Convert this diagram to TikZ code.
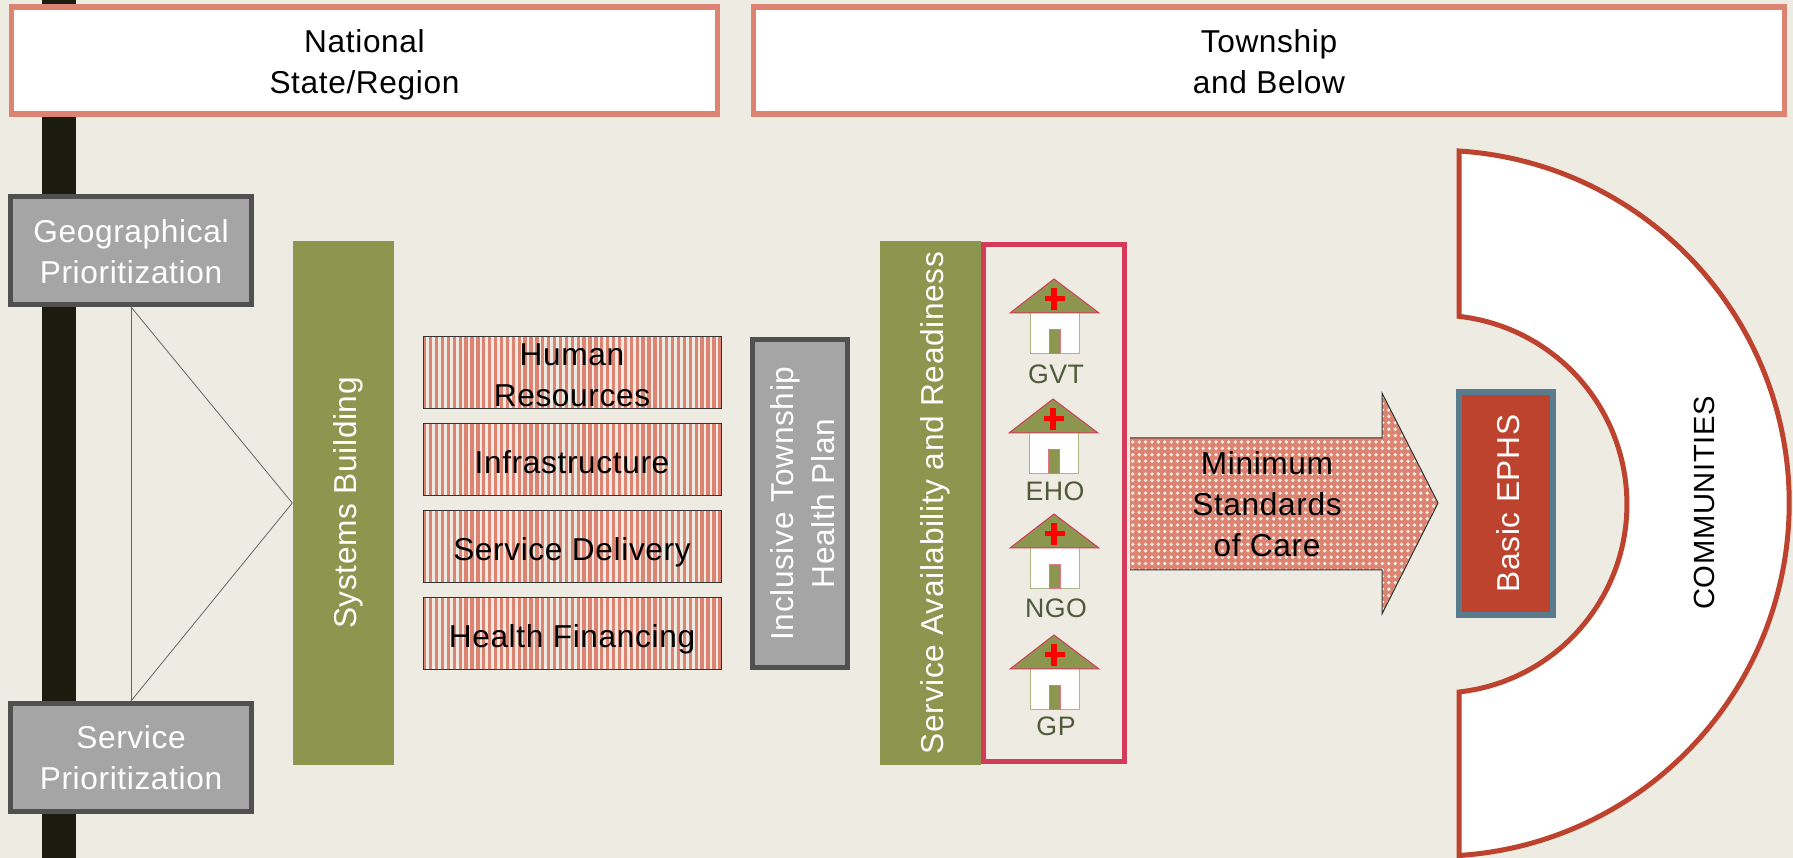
\documentclass[tikz,border=0pt]{standalone}
\usepackage{fontspec}
\setmainfont{Liberation Sans}[LetterSpace=2]
\usetikzlibrary{patterns.meta}
\definecolor{paper}{HTML}{EEEBE2}
\definecolor{salmon}{HTML}{DC8372}
\definecolor{olive}{HTML}{8C964E}
\definecolor{rust}{HTML}{BE432F}
\definecolor{crimson}{HTML}{D33B5A}
\definecolor{slate}{HTML}{5A7A8E}
\definecolor{greybox}{HTML}{A5A5A5}
\definecolor{greyline}{HTML}{505050}
\definecolor{barblack}{HTML}{1B1B0E}
\definecolor{houseword}{HTML}{4F5A3A}
\def\u{0.01cm}
\newcommand{\nudge}[1]{\rule{0pt}{#1}}
\tikzset{
    x=\u, y=-\u,
    base-text/.style = {font=\fontsize{9}{11.7}\selectfont, align=center, inner sep=0pt},
    one-line/.style = {text height=9.6pt, text depth=2pt},
    header-box/.style = {base-text, draw=salmon, fill=white, line width=5.5*\u, minimum height=107*\u},
    grey-box/.style = {base-text, draw=greyline, fill=greybox, text=white, line width=5*\u, minimum width=241*\u, minimum height=108*\u},
    olive-bar/.style = {base-text, one-line, fill=olive, text=white, rotate=90, minimum width=524*\u, minimum height=101*\u},
    stripe-box/.style = {base-text, draw=black!80, line width=1*\u, minimum width=298*\u, minimum height=72*\u,
        preaction={fill=paper}, pattern={Lines[angle=90,distance=5.9*\u,line width=3.3*\u]}, pattern color=salmon},
    thin-line/.style = {draw=black!60, line width=0.8*\u},
    house-word/.style = {font=\fontsize{7.6}{9}\selectfont, text=houseword, inner sep=0pt},
    house/.pic = {
        \draw[fill=white, draw=olive!70, line width=1*\u] (-24,34) rectangle (25,75);
        \draw[fill=olive, draw=crimson!70, line width=1*\u] (-5,51) rectangle (6,75);
        \draw[fill=olive, draw=crimson, line width=1*\u] (0,0) -- (45,34) -- (-44,34) -- cycle;
        \fill[red] (-9,17) rectangle (11,22.5);
        \fill[red] (-3,9) rectangle (3,31);
    },
}
\begin{document}
\begin{tikzpicture}
\useasboundingbox (0,0) rectangle (1793,858);
\fill[paper] (0,0) rectangle (1793,858);
\fill[barblack] (42,0) rectangle (76,858);

\node[header-box, minimum width=706*\u] (national) at (364.5,60.7) {National\nudge{8.8pt}\\State/Region};
\node[header-box, minimum width=1031*\u] (township) at (1269,60.7) {Township\nudge{7.2pt}\\and Below};

\node[grey-box] (geographical) at (131,250.5) {Geographical\nudge{7.2pt}\\Prioritization};
\node[grey-box] (service) at (131,757.5) {Service\\Prioritization};

\node[olive-bar] (systems) at (343.5,503) {Systems Building};
\draw[thin-line] (geographical.south) -- (systems.north);
\draw[thin-line] (service.north) -- (systems.north);
\draw[thin-line] (geographical.south) -- (service.north);

\node[stripe-box] (human) at (572,372.5) {Human\nudge{7.8pt}\\Resources};
\node[stripe-box, one-line] (infrastructure) at (572,460) {Infrastructure};
\node[stripe-box, one-line] (delivery) at (572,547) {Service Delivery};
\node[stripe-box, one-line] (financing) at (572,634) {Health Financing};

\node[base-text, draw=greyline, fill=greybox, text=white, line width=5*\u, rotate=90, minimum width=328*\u, minimum height=95*\u] (plan) at (800,503.5) {Inclusive Township\nudge{8.1pt}\\Health Plan};

\node[olive-bar] (readiness) at (930.5,503) {Service Availability and Readiness};
\node[draw=crimson, line width=5*\u, minimum width=141*\u, minimum height=517*\u, inner sep=0pt] (facilities) at (1054,503) {};

\foreach \name/\hx/\hy/\wy in {GVT/1054/279/374, EHO/1053/399/491, NGO/1054/514/608, GP/1054/635/726} {
    \pic at (\hx,\hy) {house};
    \node[house-word] (\name) at (\hx+2,\wy) {\name};
}

\path[preaction={fill=salmon}, pattern={Dots[distance=6.4*\u,radius=1.9*\u]}, pattern color=paper]
    (1130,438) -- (1382,438) -- (1382,393) -- (1438,503) -- (1382,614) -- (1382,570) -- (1130,570);
\draw[draw=black!80, line width=1*\u] (1130,438) -- (1382,438) -- (1382,393) -- (1438,503) -- (1382,614) -- (1382,570) -- (1130,570);
\node[base-text] (care) at (1267,504) {Minimum\\Standards\\of Care};

\draw[draw=rust, fill=white, line width=5*\u]
    (1459,151) arc[start angle=-86.3, end angle=86.3, radius=353]
    -- (1459,692) arc[start angle=83.6, end angle=-83.6, radius=189] -- cycle;
\node[base-text, one-line, rotate=90, font=\fontsize{8.3}{10}\selectfont] (communities) at (1701,503) {COMMUNITIES};

\node[base-text, one-line, draw=slate, fill=rust, text=white, line width=6*\u, rotate=90, minimum width=223*\u, minimum height=94*\u] (ephs) at (1506,503.5) {Basic EPHS};
\end{tikzpicture}
\end{document}
